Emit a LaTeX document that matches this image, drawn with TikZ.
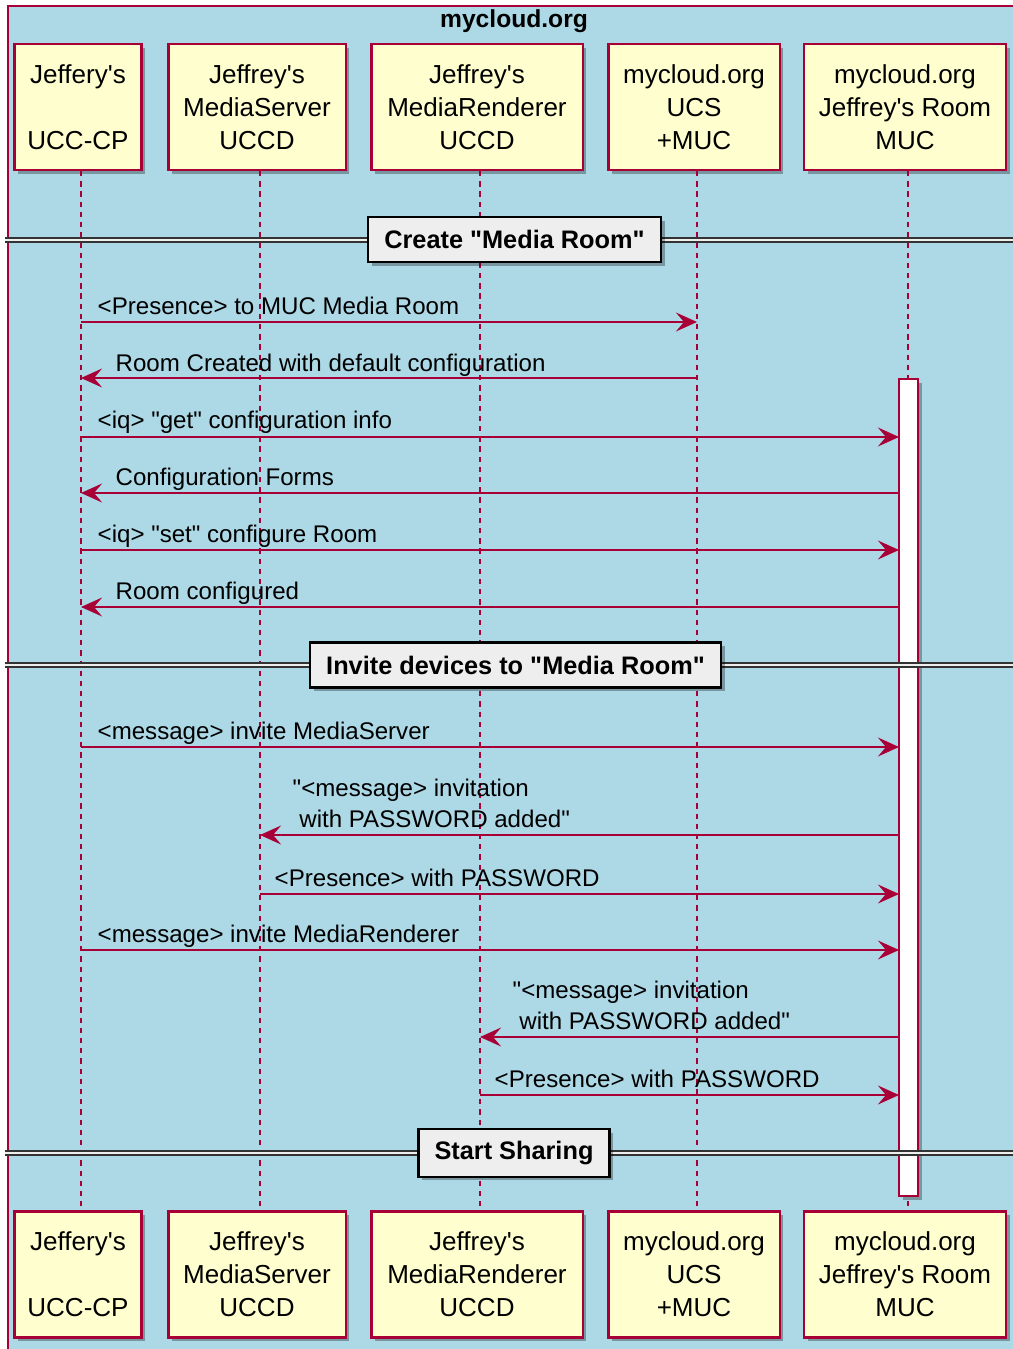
\documentclass[tikz,border=0pt]{standalone}
\usepackage{fontspec}
\setmainfont{Liberation Sans}[Ligatures=TeXOff]
\usetikzlibrary{arrows.meta,shadows}

\definecolor{umlred}{HTML}{A80036}
\definecolor{umlyellow}{HTML}{FEFECE}
\definecolor{umlblue}{HTML}{ADD8E6}
\definecolor{umlgray}{HTML}{EEEEEE}

\begin{document}
\begin{tikzpicture}[x=0.01cm, y=-0.01cm,
  actor/.style={draw=umlred, fill=umlyellow, line width=0.6pt, minimum height=1.26cm,
    align=center, inner sep=0pt, font=\fontsize{7.4}{9.4}\selectfont,
    drop shadow={shadow xshift=1.1pt, shadow yshift=-1.1pt, fill=black, opacity=0.3}},
  life/.style={umlred, line width=0.3pt, dash pattern=on 1.5pt off 1.4pt},
  msg/.style={umlred, line width=0.45pt, -{Stealth[length=6pt, width=5.4pt, inset=2.3pt]}},
  lbl/.style={anchor=base west, inner sep=0pt, font=\fontsize{6.85}{8.7}\selectfont},
  lbltwo/.style={anchor=south west, inner sep=0pt, align=left, font=\fontsize{6.85}{8.7}\selectfont},
  sep/.style={draw=black!80, line width=0.5pt, double=umlgray, double distance=0.6pt},
  divider/.style={draw=black, fill=umlgray, line width=0.6pt, minimum height=0.45cm,
    inner xsep=0.16cm, font=\bfseries\fontsize{7.2}{8.6}\selectfont,
    drop shadow={shadow xshift=1.1pt, shadow yshift=-1.1pt, fill=black, opacity=0.3}},
]
\useasboundingbox (0,0) rectangle (1013,1349);

% Frame of the box
\draw[umlred, line width=0.4pt, fill=umlblue] (8,6) rectangle (1040,1380);
\node[font=\bfseries\fontsize{7}{8}\selectfont] (title) at (514,21) {mycloud.org};

% Participants - top row
\node[actor, minimum width=1.27cm] (ucp)  at (78,107)  {Jeffery's\\\mbox{}\\UCC-CP};
\node[actor, minimum width=1.77cm] (srv)  at (257,107) {Jeffrey's\\MediaServer\\UCCD};
\node[actor, minimum width=2.11cm] (rnd)  at (477,107) {Jeffrey's\\MediaRenderer\\UCCD};
\node[actor, minimum width=1.71cm] (ucs)  at (694,107) {mycloud.org\\UCS\\+MUC};
\node[actor, minimum width=2.02cm] (room) at (905,107) {mycloud.org\\Jeffrey's Room\\MUC};

% Participants - bottom row
\node[actor, minimum width=1.27cm] (ucpB)  at (78,1274.5)  {Jeffery's\\\mbox{}\\UCC-CP};
\node[actor, minimum width=1.77cm] (srvB)  at (257,1274.5) {Jeffrey's\\MediaServer\\UCCD};
\node[actor, minimum width=2.11cm] (rndB)  at (477,1274.5) {Jeffrey's\\MediaRenderer\\UCCD};
\node[actor, minimum width=1.71cm] (ucsB)  at (694,1274.5) {mycloud.org\\UCS\\+MUC};
\node[actor, minimum width=2.02cm] (roomB) at (905,1274.5) {mycloud.org\\Jeffrey's Room\\MUC};

% Lifelines
\draw[life] ([xshift=0.03cm]ucp.south)  -- ([xshift=0.03cm]ucpB.north);
\draw[life] ([xshift=0.03cm]srv.south)  -- ([xshift=0.03cm]srvB.north);
\draw[life] ([xshift=0.03cm]rnd.south)  -- ([xshift=0.03cm]rndB.north);
\draw[life] ([xshift=0.03cm]ucs.south)  -- ([xshift=0.03cm]ucsB.north);
\draw[life] ([xshift=0.03cm]room.south) -- ([xshift=0.03cm]roomB.north);

% Activation of the room
\node[draw=umlred, fill=white, line width=0.6pt, minimum width=0.19cm, minimum height=8.17cm,
  inner sep=0pt, drop shadow={shadow xshift=1.1pt, shadow yshift=-1.1pt, fill=black, opacity=0.3}]
  (act) at (908.5,787.5) {};

% Section dividers
\coordinate (d1l) at (5,240);  \coordinate (d1r) at (1020,240);
\coordinate (d2l) at (5,665);  \coordinate (d2r) at (1020,665);
\coordinate (d3l) at (5,1153); \coordinate (d3r) at (1020,1153);
\draw[sep] (d1l) -- (d1r);
\draw[sep] (d2l) -- (d2r);
\draw[sep] (d3l) -- (d3r);
\node[divider] (d1) at (514.5,239.5) {Create "Media Room"};
\node[divider] (d2) at (515.5,665)   {Invite devices to "Media Room"};
\node[divider] (d3) at (514,1153)    {Start Sharing};

% Create "Media Room"
\coordinate (m1a) at (81,322);  \coordinate (m1b) at (697,322);
\draw[msg] (m1a) -- (m1b);
\node[lbl] (t1) at (97,315) {<Presence> to MUC Media Room};

\coordinate (m2a) at (697,378); \coordinate (m2b) at (81,378);
\draw[msg] (m2a) -- (m2b);
\node[lbl] (t2) at (115,371) {Room Created with default configuration};

\coordinate (m3a) at (81,437);  \coordinate (m3b) at (899,437);
\draw[msg] (m3a) -- (m3b);
\node[lbl] (t3) at (97,429) {<iq> "get" configuration info};

\coordinate (m4a) at (899,493); \coordinate (m4b) at (81,493);
\draw[msg] (m4a) -- (m4b);
\node[lbl] (t4) at (115,485) {Configuration Forms};

\coordinate (m5a) at (81,550);  \coordinate (m5b) at (899,550);
\draw[msg] (m5a) -- (m5b);
\node[lbl] (t5) at (97,542) {<iq> "set" configure Room};

\coordinate (m6a) at (899,607); \coordinate (m6b) at (81,607);
\draw[msg] (m6a) -- (m6b);
\node[lbl] (t6) at (115,599) {Room configured};

% Invite devices
\coordinate (m7a) at (81,747);  \coordinate (m7b) at (899,747);
\draw[msg] (m7a) -- (m7b);
\node[lbl] (t7) at (97,739) {<message> invite MediaServer};

\coordinate (m8a) at (899,835); \coordinate (m8b) at (260,835);
\draw[msg] (m8a) -- (m8b);
\node[lbltwo] (t8) at (292,828) {"<message> invitation\\\ with PASSWORD added"};

\coordinate (m9a) at (260,894); \coordinate (m9b) at (899,894);
\draw[msg] (m9a) -- (m9b);
\node[lbl] (t9) at (274,886) {<Presence> with PASSWORD};

\coordinate (m10a) at (81,950); \coordinate (m10b) at (899,950);
\draw[msg] (m10a) -- (m10b);
\node[lbl] (t10) at (97,942) {<message> invite MediaRenderer};

\coordinate (m11a) at (899,1037); \coordinate (m11b) at (480,1037);
\draw[msg] (m11a) -- (m11b);
\node[lbltwo] (t11) at (512,1030) {"<message> invitation\\\ with PASSWORD added"};

\coordinate (m12a) at (480,1095); \coordinate (m12b) at (899,1095);
\draw[msg] (m12a) -- (m12b);
\node[lbl] (t12) at (494,1087) {<Presence> with PASSWORD};

\end{tikzpicture}
\end{document}
